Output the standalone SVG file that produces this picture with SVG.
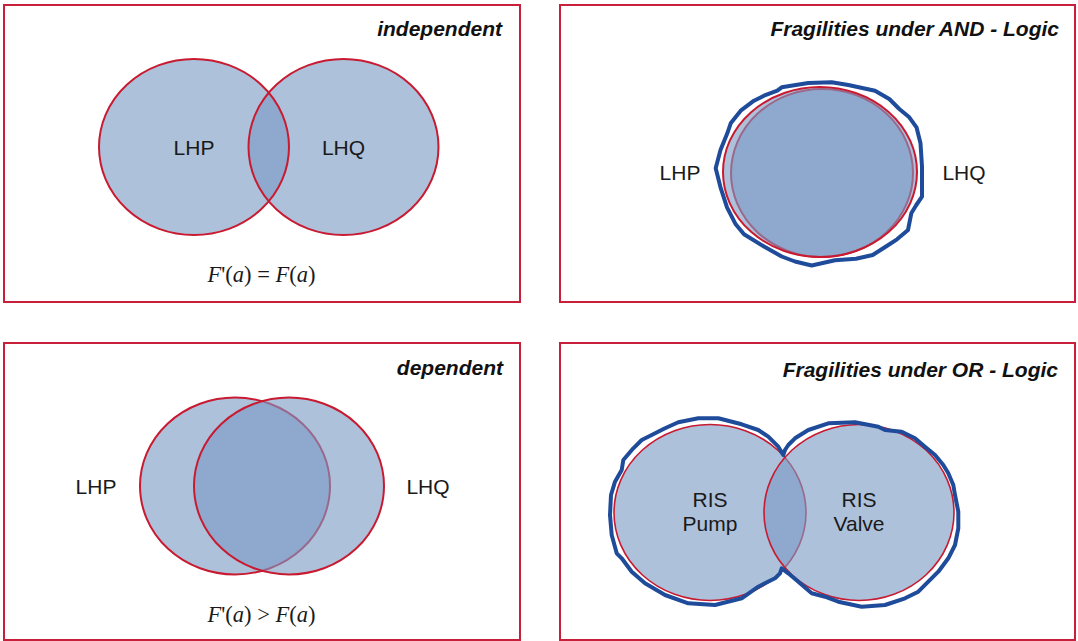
<svg xmlns="http://www.w3.org/2000/svg" width="1078" height="641" viewBox="0 0 1078 641">
  <style>
    .frame { fill: #ffffff; stroke: #c8203a; stroke-width: 2; }
    .set { fill: #7b9bc5; fill-opacity: 0.62; }
    .edge { fill: none; stroke: #c81a30; stroke-width: 2; }
    .edge-thin { fill: none; stroke: #c81a30; stroke-width: 1.6; }
    .hull { fill: none; stroke: #1f4b9b; stroke-width: 4; stroke-linejoin: round; stroke-linecap: round; }
    .title { font-family: "Liberation Sans", Arial, sans-serif; font-size: 21px; font-weight: bold; font-style: italic; fill: #111111; text-anchor: end; }
    .label { font-family: "Liberation Sans", Arial, sans-serif; font-size: 21px; fill: #1a1a1a; text-anchor: middle; }
    .formula { font-family: "Liberation Serif", "Times New Roman", serif; font-size: 22.5px; fill: #1a1a1a; text-anchor: middle; }
    .it { font-style: italic; }
  </style>

  <!-- independent events: two sets with a small intersection -->
  <g id="panel-independent">
    <rect class="frame" x="4" y="5" width="516" height="297"/>
    <text class="title" x="502" y="36">independent</text>
    <g id="set-lhp-indep">
      <ellipse class="set" cx="194" cy="147" rx="95" ry="88"/>
    </g>
    <g id="set-lhq-indep">
      <ellipse class="set" cx="343.5" cy="147" rx="95" ry="88"/>
    </g>
    <ellipse class="edge" cx="194" cy="147" rx="95" ry="88"/>
    <ellipse class="edge" cx="343.5" cy="147" rx="95" ry="88"/>
    <text class="label" x="194" y="154.5">LHP</text>
    <text class="label" x="343.5" y="154.5">LHQ</text>
    <text class="formula" x="261.5" y="282"><tspan class="it">F</tspan>'(<tspan class="it">a</tspan>) = <tspan class="it">F</tspan>(<tspan class="it">a</tspan>)</text>
  </g>

  <!-- AND logic: almost fully overlapping fragilities -->
  <g id="panel-and">
    <rect class="frame" x="560" y="5" width="515" height="297"/>
    <text class="title" x="1059" y="36">Fragilities under AND - Logic</text>
    <g id="set-lhq-and">
      <ellipse class="set" cx="822" cy="173" rx="91" ry="84" />
      <ellipse class="edge" cx="822" cy="173" rx="91" ry="84"/>
    </g>
    <g id="set-lhp-and">
      <ellipse class="set" cx="820" cy="172" rx="97" ry="85"/>
      <ellipse class="edge" cx="820" cy="172" rx="97" ry="85"/>
    </g>
    <polygon class="hull" points="781.7,87.3 808.3,83 831.7,82.3 848.3,85 875,90.7 889.3,99 899.3,109 909.3,117.3 916.5,127.3 920.5,143.3 922,166.7 922,196.7 916.3,205 911.3,213.3 908,230 897,239.3 886,246.5 872.7,255 856,258.7 835,260.3 811.7,265.5 795,261.5 781.7,256.5 764,246.5 744,234.3 735.7,224.3 727,207.3 720.5,187.3 715.7,168.3 720.5,150 727.3,133.3 730.7,123.3 740.7,110.7 754,100.7 764,95.7 777.3,90.7"/>
    <text class="label" x="680" y="180">LHP</text>
    <text class="label" x="964" y="180">LHQ</text>
  </g>

  <!-- dependent events: large intersection -->
  <g id="panel-dependent">
    <rect class="frame" x="4" y="343" width="516" height="297"/>
    <text class="title" x="503" y="375">dependent</text>
    <g id="set-lhp-dep">
      <ellipse class="set" cx="235" cy="486" rx="95" ry="88.5"/>
      <ellipse class="edge" cx="235" cy="486" rx="95" ry="88.5"/>
    </g>
    <g id="set-lhq-dep">
      <ellipse class="set" cx="289" cy="486" rx="95" ry="88.5"/>
      <ellipse class="edge" cx="289" cy="486" rx="95" ry="88.5"/>
    </g>
    <text class="label" x="96" y="493.5">LHP</text>
    <text class="label" x="428" y="493.5">LHQ</text>
    <text class="formula" x="261.5" y="622"><tspan class="it">F</tspan>'(<tspan class="it">a</tspan>) &gt; <tspan class="it">F</tspan>(<tspan class="it">a</tspan>)</text>
  </g>

  <!-- OR logic: union of pump and valve fragilities -->
  <g id="panel-or">
    <rect class="frame" x="560" y="343" width="515" height="297"/>
    <text class="title" x="1058" y="377">Fragilities under OR - Logic</text>
    <g id="set-ris-pump">
      <ellipse class="set" cx="710" cy="512.5" rx="96" ry="88"/>
      <ellipse class="edge-thin" cx="710" cy="512.5" rx="96" ry="88"/>
    </g>
    <g id="set-ris-valve">
      <ellipse class="set" cx="859" cy="512.5" rx="95" ry="88"/>
      <ellipse class="edge-thin" cx="859" cy="512.5" rx="95" ry="88"/>
    </g>
    <polygon class="hull" points="783.3,455 778.3,446.7 768.3,436.7 758.3,430 741.7,424.3 718.3,418.3 698.3,418.3 678.3,422.3 665,428.3 651.7,435 641.7,440 633.3,448.3 623.3,460 621.7,470 615,481.7 611,495 610,515 611.7,535 616.7,553.3 621.7,558.3 631.7,571.7 645,583.3 665,595 688.3,603.3 715,605 741.7,598.3 758.3,586.7 775,578.3 780,573.3 781.7,568.3 788.3,573.3 798.3,581.7 811.7,593.3 825,596.7 838.3,601.7 861.7,606.7 885,605 905,598.3 918.3,591.7 928.3,581.7 938.3,571.7 948.3,558.3 955,545 958.3,528.3 958.3,511.7 955,495 953.3,485 948.3,473.3 943.3,465 935,455 925,446.7 915,438.3 901.7,431.7 885,430 878.3,426.7 855,422.3 828.3,423.3 808.3,430 795,438.3 788.3,445 785,450"/>
    <text class="label" x="710" y="507">RIS</text>
    <text class="label" x="710" y="531">Pump</text>
    <text class="label" x="859" y="507">RIS</text>
    <text class="label" x="859" y="531">Valve</text>
  </g>
</svg>
